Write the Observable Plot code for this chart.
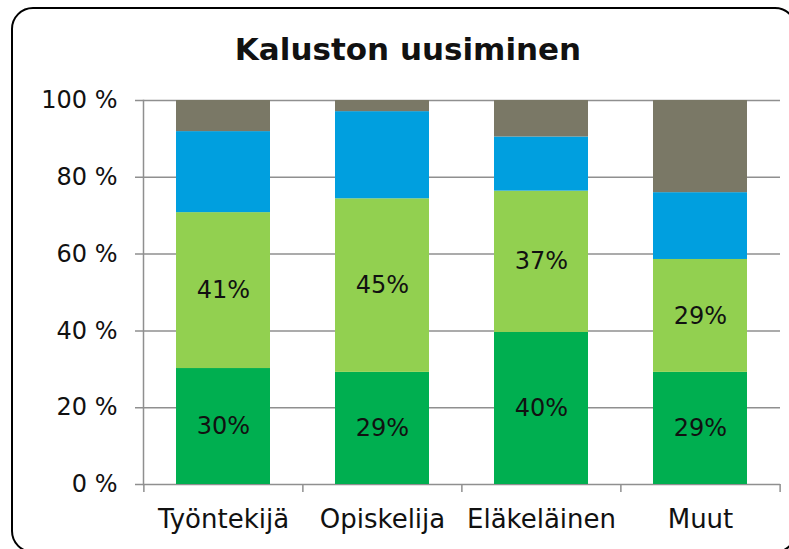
<!DOCTYPE html>
<html>
<head>
<meta charset="utf-8">
<script src="https://cdn.jsdelivr.net/npm/d3@7"></script>
<script src="https://cdn.jsdelivr.net/npm/@observablehq/plot@0.6"></script>
<style>
  body { margin: 0; background: #fff; }
  #wrap { position: relative; width: 789px; height: 549px; overflow: hidden; font-family: "DejaVu Sans", sans-serif; }
  #frame { position: absolute; left: 11px; top: 7px; width: 786px; height: 546px; border: 2px solid #000; border-radius: 22px; box-sizing: border-box; }
  #title { position: absolute; left: 0; width: 816px; top: 31px; line-height: 1.164; text-align: center; font-weight: bold; font-size: 31px; color: #111; }
  #chart { position: absolute; left: 0; top: 0; }
</style>
</head>
<body>
<div id="wrap">
  <div id="frame"></div>
  <div id="chart"></div>
  <div id="title">Kaluston uusiminen</div>
</div>
<script>
const categories = ["Työntekijä", "Opiskelija", "Eläkeläinen", "Muut"];
const seriesNames = ["Sarja 1", "Sarja 2", "Sarja 3", "Sarja 4"];
const seriesColors = ["#00AF50", "#92D050", "#009FDF", "#7A7866"];
const sarja1 = [30.2, 29.2, 39.6, 29.2];
const sarja2 = [40.6, 45.2, 36.8, 29.4];
const sarja3 = [21.1, 22.7, 14.1, 17.4];
const sarja4 = [8.1, 2.9, 9.5, 24.0];
const labeledSeries = ["Sarja 1", "Sarja 2"];
const yTicks = [0, 20, 40, 60, 80, 100];

const seriesValues = [sarja1, sarja2, sarja3, sarja4];
const data = [];
categories.forEach((c, i) => {
  seriesNames.forEach((s, j) => {
    data.push({category: c, series: s, value: seriesValues[j][i]});
  });
});

const W = 789, H = 549, ML = 143, MR = 9, MT = 100, MB = 65;
const step = (W - ML - MR) / categories.length;
const gridColor = "#8f8f8f";

const chart = Plot.plot({
  width: W,
  height: H,
  marginLeft: ML,
  marginRight: MR,
  marginTop: MT,
  marginBottom: MB,
  style: {background: "transparent", fontFamily: "'DejaVu Sans', sans-serif", color: "#111"},
  x: {domain: categories, paddingInner: 0.41, paddingOuter: 0.205, label: null},
  y: {domain: [0, 100], label: null},
  color: {domain: seriesNames, range: seriesColors},
  marks: [
    Plot.ruleY(yTicks, {y: d => d, stroke: gridColor, strokeWidth: 1.5, insetLeft: -8}),
    Plot.barY(data, {x: "category", y: "value", fill: "series", z: "series"}),
    Plot.text(data, Plot.stackY({
      x: "category", y: "value", z: "series",
      text: d => labeledSeries.includes(d.series) ? Math.round(d.value) + "%" : "",
      fontSize: 24, fill: "#111"
    })),
    Plot.frame({anchor: "left", stroke: gridColor, strokeWidth: 1.5}),
    Plot.ruleX(categories, {x: d => d, y1: 0, y2: 0, insetBottom: -8, dx: -step / 2, stroke: gridColor, strokeWidth: 1.5}),
    Plot.ruleX(categories.slice(-1), {x: d => d, y1: 0, y2: 0, insetBottom: -8, dx: step / 2, stroke: gridColor, strokeWidth: 1.5}),
    Plot.axisY({ticks: yTicks, tickFormat: d => d + " %", tickSize: 0, tickPadding: 26, fontSize: 24, fill: "#111"}),
    Plot.axisX({tickSize: 0, tickPadding: 25, fontSize: 26, fill: "#111"})
  ]
});
document.getElementById("chart").appendChild(chart);
</script>
</body>
</html>
